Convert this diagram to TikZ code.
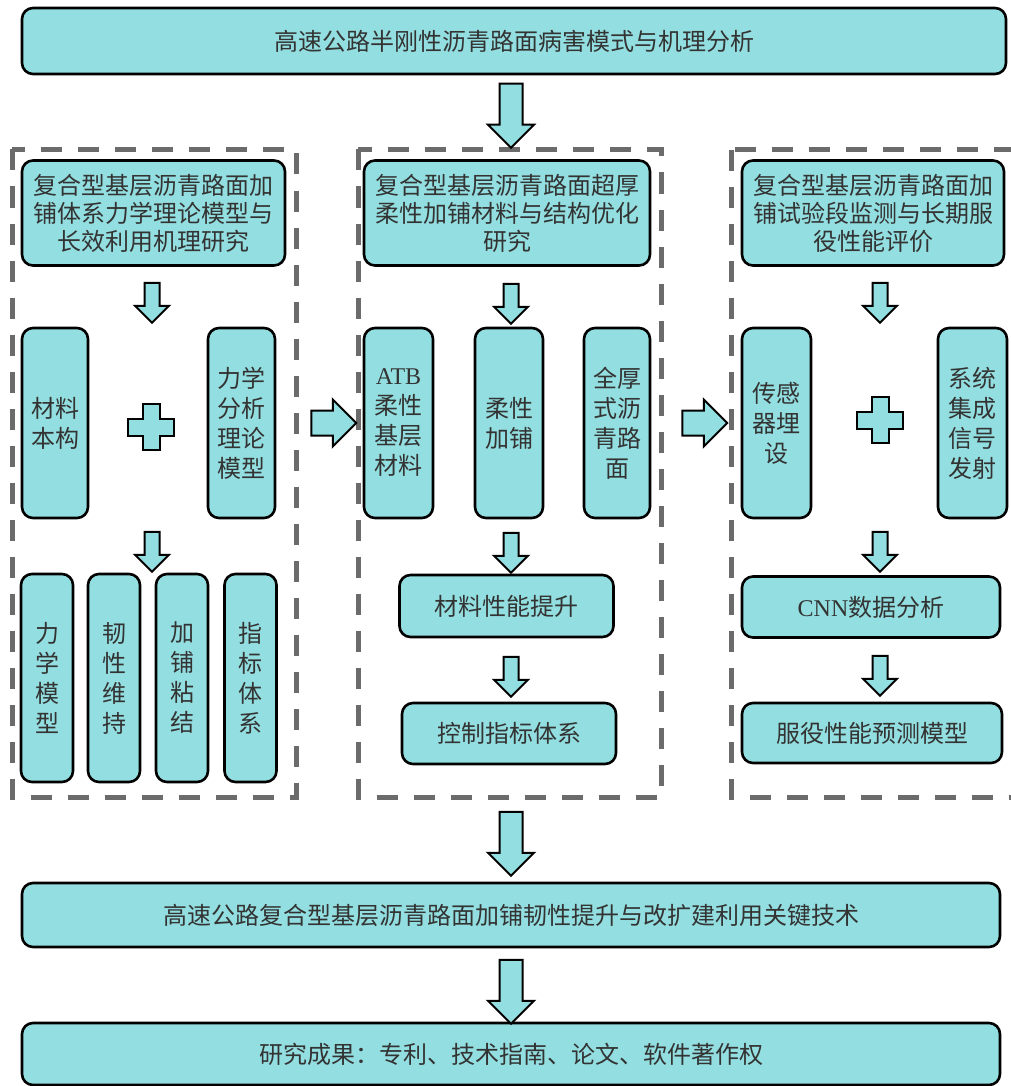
\documentclass[tikz,border=0pt]{standalone}
\usepackage{fontspec}
\setmainfont{Liberation Serif}
\newfontfamily\cjk{Noto Sans CJK SC}
\usetikzlibrary{shapes.arrows}
\definecolor{boxcyan}{RGB}{147,222,224}
\definecolor{txtgray}{RGB}{51,51,51}
\definecolor{framegray}{RGB}{107,107,107}
\begin{document}
\begin{tikzpicture}[x=1pt,y=-1pt,
        box/.style={draw=black,line width=2.6pt,rounded corners=11pt,fill=boxcyan,text=txtgray,
            font=\cjk\fontsize{24}{28}\selectfont,align=center,inner sep=0pt},
        vbox/.style={box,font=\cjk\fontsize{24}{30}\selectfont,minimum height=190pt},
        frame/.style={framegray,line width=5pt,dash pattern=on 21pt off 16pt},
        blockarr/.style={single arrow,draw=black,line width=2pt,fill=boxcyan,inner xsep=0pt},
        bigdown/.style={blockarr,rotate=-90,minimum height=64pt,inner ysep=10.5pt,single arrow head extend=11.5pt},
        smalldown/.style={blockarr,rotate=-90,minimum height=40pt,inner ysep=6.5pt,single arrow head extend=9.5pt},
        bigright/.style={blockarr,minimum height=45pt,inner ysep=11.5pt,single arrow head extend=11pt},
        plussign/.style={draw=black,line width=2pt,fill=boxcyan}]
    \clip (0,0) rectangle (1011,1086);
    %% Dashed frames
    \draw[frame] (12,149.5) rectangle (296,797);
    \draw[frame] (358,149.5) rectangle (661,797);
    \draw[frame] (731,150) rectangle (1040,797);
    %% Top and bottom rows
    \node[box,minimum width=984pt,minimum height=66pt] (title) at (514,41) {高速公路半刚性沥青路面病害模式与机理分析};
    \node[box,minimum width=978pt,minimum height=64pt] (tech) at (511,915) {高速公路复合型基层沥青路面加铺韧性提升与改扩建利用关键技术};
    \node[box,minimum width=978pt,minimum height=62pt] (result) at (511,1054) {研究成果：专利、技术指南、论文、软件著作权};
    %% Left column
    \node[box,minimum width=263pt,minimum height=105pt] (resA) at (153.5,213) {复合型基层沥青路面加\\铺体系力学理论模型与\\长效利用机理研究};
    \node[vbox,minimum width=66pt] (matA) at (55,423) {材料\\本构};
    \node[vbox,minimum width=67pt] (theoA) at (241.5,423) {力学\\分析\\理论\\模型};
    \node[vbox,minimum width=52pt,minimum height=208pt] (mA1) at (47,678) {力\\学\\模\\型};
    \node[vbox,minimum width=52pt,minimum height=208pt] (mA2) at (114,678) {韧\\性\\维\\持};
    \node[vbox,minimum width=52pt,minimum height=208pt] (mA3) at (182,678) {加\\铺\\粘\\结};
    \node[vbox,minimum width=52pt,minimum height=208pt] (mA4) at (250.5,678) {指\\标\\体\\系};
    %% Middle column
    \node[box,minimum width=286pt,minimum height=105pt] (resB) at (507,213) {复合型基层沥青路面超厚\\柔性加铺材料与结构优化\\研究};
    \node[vbox,minimum width=69pt] (atb) at (398.5,423) {{\rmfamily ATB}\\柔性\\基层\\材料};
    \node[vbox,minimum width=68pt] (flex) at (509,423) {柔性\\加铺};
    \node[vbox,minimum width=66pt] (full) at (617,423) {全厚\\式沥\\青路\\面};
    \node[box,minimum width=214pt,minimum height=62pt] (perf) at (506.5,606) {材料性能提升};
    \node[box,minimum width=214pt,minimum height=61pt] (index) at (509,733.5) {控制指标体系};
    %% Right column
    \node[box,minimum width=262pt,minimum height=105pt] (resC) at (873,213) {复合型基层沥青路面加\\铺试验段监测与长期服\\役性能评价};
    \node[vbox,minimum width=69pt] (sensor) at (776.5,423) {传感\\器埋\\设};
    \node[vbox,minimum width=69pt] (signal) at (972.5,423) {系统\\集成\\信号\\发射};
    \node[box,minimum width=258pt,minimum height=61pt] (cnn) at (871,607) {{\rmfamily CNN}数据分析};
    \node[box,minimum width=260pt,minimum height=60pt] (predict) at (872,733) {服役性能预测模型};
    %% Block arrows
    \node[bigdown] (arr0) at (511,110) {};
    \node[bigdown] (arr6) at (511,838) {};
    \node[bigdown] (arr7) at (511,986) {};
    \node[bigright] (arr4) at (327.5,423) {};
    \node[bigright] (arr5) at (698.5,423) {};
    \node[smalldown] (arrA1) at (152,299) {};
    \node[smalldown] (arrA2) at (152,548) {};
    \node[smalldown] (arrB1) at (511,300) {};
    \node[smalldown] (arrB2) at (511,549) {};
    \node[smalldown] (arrB3) at (511,673) {};
    \node[smalldown] (arrC1) at (880,299) {};
    \node[smalldown] (arrC2) at (880,548) {};
    \node[smalldown] (arrC3) at (880,672) {};
    %% Plus signs
    \coordinate (plusA) at (151,427);
    \coordinate (plusC) at (880,420);
    \foreach \p in {plusA,plusC}
        \draw[plussign] (\p) ++(-8.5,-23) -- ++(17,0) -- ++(0,14.5) -- ++(14.5,0) -- ++(0,17) -- ++(-14.5,0)
            -- ++(0,14.5) -- ++(-17,0) -- ++(0,-14.5) -- ++(-14.5,0) -- ++(0,-17) -- ++(14.5,0) -- cycle;
\end{tikzpicture}
\end{document}
